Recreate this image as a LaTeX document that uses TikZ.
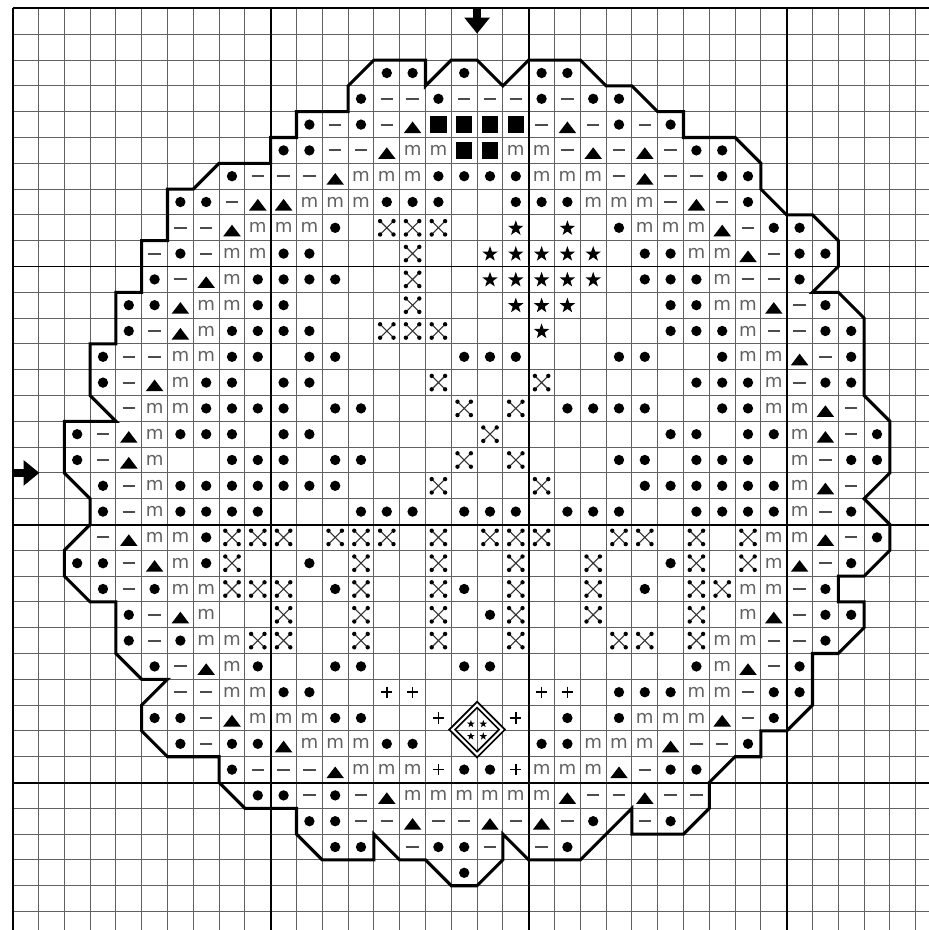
\documentclass[tikz,border=0pt]{standalone}
\usepackage{fontspec}
\newfontfamily\symfont{DejaVu Sans}
\begin{document}
\begin{tikzpicture}[x=0.5cm,y=-0.5cm,
  gthin/.style={black!62,line width=0.55pt},
  gthick/.style={black,line width=1.1pt},
  outl/.style={black,line width=1.7pt,line join=miter},
  msym/.style={font=\symfont\fontsize{10}{10}\selectfont,text=black!62,inner sep=0pt},
  pics/dotsym/.style={code={\fill (0,0) circle (0.2);}},
  pics/dashsym/.style={code={\draw[black!70,line width=1.1pt] (-0.24,0) -- (0.24,0);}},
  pics/trisym/.style={code={\fill (-0.34,0.33) -- (0.34,0.33) -- (0,-0.12) -- cycle;}},
  pics/sqsym/.style={code={\fill (-0.32,-0.32) rectangle (0.32,0.32);}},
  pics/xsym/.style={code={\draw[black!80,line width=0.6pt] (-0.21,-0.21) -- (0.21,0.21) (-0.21,0.21) -- (0.21,-0.21);
     \foreach \sx in {-1,1} \foreach \sy in {-1,1} \fill (0.26*\sx,0.26*\sy) circle (0.085);}},
  pics/starsym/.style={code={\fill[scale=1.25] (0,-0.25) -- (0.0588,-0.0809) -- (0.2378,-0.0773) -- (0.0951,0.0309) -- (0.1469,0.2023) -- (0,0.1) -- (-0.1469,0.2023) -- (-0.0951,0.0309) -- (-0.2378,-0.0773) -- (-0.0588,-0.0809) -- cycle;}},
  pics/plussym/.style={code={\draw[line width=0.9pt] (-0.22,0) -- (0.22,0) (0,-0.22) -- (0,0.22);}}
]
\useasboundingbox (-0.492,-0.329) rectangle (35.477,35.717);
\fill[white] (-0.492,-0.329) rectangle (35.477,35.717);
% grid
\foreach \i in {0,...,35} \draw[gthin] (\i,0) -- (\i,35.8);
\foreach \j in {0,...,35} \draw[gthin] (0,\j) -- (35.6,\j);
\foreach \i in {0,10,20,30} \draw[gthick] (\i,0) -- (\i,35.8);
\foreach \j in {0,10,20,30} \draw[gthick] (0,\j) -- (35.6,\j);
% diamond band
\fill[white,even odd rule] (18,26.87) -- (19.08,27.95) -- (18,29.03) -- (16.92,27.95) -- cycle
  (18,27.1) -- (18.85,27.95) -- (18,28.8) -- (17.15,27.95) -- cycle;
% dots
\foreach \r/\cs in {2/{14,15,17,20,21},3/{13,16,20,22,23},4/{11,13,23,25},5/{10,11,26,27},
  6/{8,16,17,18,19,27,28},7/{6,7,14,15,16,19,20,21,28},8/{12,23,29,30},9/{6,10,11,24,25,30,31},
  10/{5,9,10,11,12,24,25,26,30},11/{4,5,9,10,25,26,31},12/{4,8,9,10,11,25,26,27,31,32},
  13/{3,8,9,11,12,17,18,19,23,24,27,32},14/{3,7,8,10,11,26,27,28,31,32},
  15/{7,8,9,10,12,13,21,22,23,24,27,28},16/{2,6,7,8,10,11,25,26,28,29,33},
  17/{2,8,9,10,12,13,23,24,26,27,28,32,33},18/{3,6,7,8,9,10,11,12,24,25,26,27,28,29},
  19/{3,6,7,8,9,13,14,15,17,18,19,21,22,23,26,27,28,29,32},20/{7,33},21/{2,3,7,11,25,32},
  22/{3,5,12,17,24,31},23/{4,18,31,32},24/{4,6,31},25/{5,9,12,13,17,18,26,30},
  26/{10,11,23,24,25,29,30},27/{5,6,12,13,21,23,29},28/{6,8,9,14,15,20,21,28},
  29/{8,17,18,25,26},30/{9,10,12},31/{11,12,22,25},32/{12,13,16,17,21},33/{17}}
  \foreach \c in \cs \pic at (\c+0.5,\r+0.5) {dotsym};
% dashes
\foreach \r/\cs in {3/{14,15,17,18,19,21},4/{12,14,20,22,24},5/{12,13,21,23,25},6/{9,10,11,23,25,26},
  7/{8,25,27},8/{6,7,28},9/{5,7,29},10/{6,28,29},11/{30},12/{5,29,30},13/{4,5,31},14/{4,30},
  15/{4,32},16/{3,32},17/{3,31},18/{4,32},19/{4,31},20/{3,32},21/{4,31},22/{4,30},23/{5,30},
  24/{5,29,30},25/{6,29},26/{6,7,28},27/{7,28},28/{7,26,27},29/{9,10,11,24},
  30/{11,13,22,23,25,26},31/{13,14,16,17,19,21,24},32/{15,18,20}}
  \foreach \c in \cs \pic at (\c+0.5,\r+0.5) {dashsym};
% triangles
\foreach \r/\cs in {4/{15,21},5/{14,22,24},6/{12,24},7/{9,10,26},8/{8,27},9/{28},10/{7},11/{6,29},
  12/{6},13/{30},14/{5},15/{31},16/{4,31},17/{4},18/{31},20/{4,31},21/{5,30},23/{6,29},
  25/{7,28},27/{8,27},28/{10,25},29/{12,23},30/{14,21,24},31/{15,18,20}}
  \foreach \c in \cs \pic at (\c+0.5,\r+0.5) {trisym};
% m letters
\foreach \r/\cs in {5/{15,16,19,20},6/{13,14,15,20,21,22},7/{11,12,13,22,23,24},8/{9,10,11,24,25,26},
  9/{8,9,26,27},10/{8,27},11/{7,8,27,28},12/{7,28},13/{6,7,28,29},14/{6,29},15/{5,6,29,30},
  16/{5,30},17/{5,30},18/{5,30},19/{5,30},20/{5,6,29,30},21/{6,29},22/{6,7,28,29},23/{7,28},
  24/{7,8,27,28},25/{8,27},26/{8,9,26,27},27/{9,10,11,24,25,26},28/{11,12,13,22,23,24},
  29/{13,14,15,20,21,22},30/{15,16,17,18,19,20}}
  \foreach \c in \cs \node[msym] (m\r-\c) at (\c+0.5,\r+0.5) {m};
% squares
\foreach \r/\cs in {4/{16,17,18,19},5/{17,18}}
  \foreach \c in \cs \pic at (\c+0.5,\r+0.5) {sqsym};
% crosses
\foreach \r/\cs in {8/{14,15,16},9/{15},10/{15},11/{15},12/{14,15,16},14/{16,20},15/{17,19},16/{18},
  17/{17,19},18/{16,20},20/{8,9,10,12,13,14,16,18,19,20,23,24,26,28},21/{8,13,16,19,22,26,28},
  22/{8,9,10,13,16,19,22,26,27},23/{10,13,16,19,22,26},24/{9,10,13,16,19,23,24,26}}
  \foreach \c in \cs \pic at (\c+0.5,\r+0.5) {xsym};
% stars
\foreach \r/\cs in {8/{19,21},9/{18,19,20,21,22},10/{18,19,20,21,22},11/{19,20,21},12/{20}}
  \foreach \c in \cs \pic at (\c+0.5,\r+0.52) {starsym};
% plus
\foreach \r/\cs in {26/{14,15,20,21},27/{16,19},29/{16,19}}
  \foreach \c in \cs \pic at (\c+0.5,\r+0.5) {plussym};
% centre diamond
\draw[line width=0.9pt] (18,26.87) -- (19.08,27.95) -- (18,29.03) -- (16.92,27.95) -- cycle;
\draw[line width=0.9pt] (18,27.1) -- (18.85,27.95) -- (18,28.8) -- (17.15,27.95) -- cycle;
\foreach \dx/\dy in {-0.24/-0.22,0.24/-0.22,-0.24/0.26,0.24/0.26}
  \pic[scale=0.5] at (18+\dx,27.95+\dy) {starsym};
% outline
\draw[outl] (11,4) -- (13,4) -- (13,3) -- (14,2) -- (16,2) -- (16,3) -- (17,2) -- (18,2) -- (19,3)
 -- (20,2) -- (22,2) -- (23,3) -- (24,3) -- (25,4) -- (26,4) -- (26,5) -- (28,5) -- (29,6) -- (29,7)
 -- (30,8) -- (31,8) -- (32,9) -- (32,10) -- (31,11) -- (32,11) -- (33,12) -- (33,15) -- (34,16)
 -- (34,18) -- (33,19) -- (34,20) -- (34,21) -- (33,22) -- (32,22) -- (32,23) -- (33,23) -- (33,24)
 -- (32,25) -- (31,25) -- (31,27) -- (30,28) -- (29,28) -- (29,29) -- (28,29) -- (27,30) -- (27,31)
 -- (26,32) -- (24,32) -- (24,31) -- (22,33) -- (20,33) -- (19,32) -- (19,33) -- (18,34) -- (17,34)
 -- (16,33) -- (15,33) -- (14,32) -- (14,33) -- (12,33) -- (11,32) -- (11,31) -- (9,31) -- (8,30)
 -- (8,29) -- (6,29) -- (5,28) -- (5,27) -- (6,26) -- (5,26) -- (4,25) -- (4,23) -- (3,23) -- (2,22)
 -- (2,21) -- (3,20) -- (3,19) -- (2,18) -- (2,16) -- (4,16) -- (3,15) -- (3,13) -- (4,13) -- (4,11)
 -- (5,11) -- (5,9) -- (6,9) -- (6,7) -- (7,7) -- (8,6) -- (10,6) -- (10,5) -- (11,5) -- cycle;
% centre arrows
\fill (17.85,0) -- (18.15,0) -- (18.15,0.35) -- (18.5,0.35) -- (18,0.97) -- (17.5,0.35) -- (17.85,0.35) -- cycle;
\fill (0,17.85) -- (0.42,17.85) -- (0.42,17.5) -- (1.03,18) -- (0.42,18.5) -- (0.42,18.15) -- (0,18.15) -- cycle;
\end{tikzpicture}
\end{document}
